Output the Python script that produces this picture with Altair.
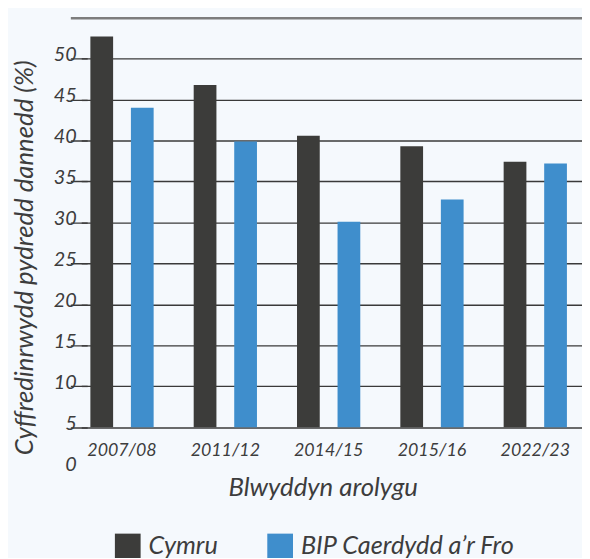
import altair as alt
import pandas as pd

years = ["2007/08", "2011/12", "2014/15", "2015/16", "2022/23"]
series = ["Cymru", "BIP Caerdydd a\u2019r Fro"]
cymru = [47.7, 41.8, 35.6, 34.3, 32.4]
bip = [39.0, 34.9, 25.1, 27.8, 32.2]
colors = ["#3c3c3a", "#3f8ecc"]
y_ticks = [-5, 0, 5, 10, 15, 20, 25, 30, 35, 40, 45, 50]

rows = []
for i, yr in enumerate(years):
    rows.append({"year": yr, "series": series[0], "value": cymru[i]})
    rows.append({"year": yr, "series": series[1], "value": bip[i]})
df = pd.DataFrame(rows)

FONT = "Lato"
TXT = "#3d3d3d"

chart = alt.Chart(df).mark_bar().encode(
    x=alt.X(
        "year:N",
        sort=years,
        scale=alt.Scale(range=[-17, 505], paddingInner=0.3876, paddingOuter=0.1938),
        axis=alt.Axis(
            title="Blwyddyn arolygu",
            labelAngle=0,
            domain=False,
            ticks=False,
            offset=-18,
            labelPadding=0,
            labelBaseline="middle",
            labelFont=FONT,
            labelFontStyle="italic",
            labelFontSize=18,
            labelColor=TXT,
            titleFont=FONT,
            titleFontStyle="italic",
            titleFontWeight="normal",
            titleFontSize=26,
            titleColor=TXT,
            titleX=238,
            titleY=38,
            titleAlign="center",
            titleBaseline="middle",
        ),
    ),
    xOffset=alt.XOffset("series:N", sort=series,
                        scale=alt.Scale(paddingInner=0.439, paddingOuter=0)),
    y=alt.Y(
        "value:Q",
        stack=None,
        scale=alt.Scale(domain=[-5, 50], nice=False, zero=False),
        axis=alt.Axis(
            title="Cyffredinrwydd pydredd dannedd (%)",
            values=y_ticks,
            labelExpr="datum.value >= 50 ? '' : format(datum.value + 5, 'd')",
            domain=False,
            grid=True,
            gridColor={"condition": {"test": "datum.value >= 50", "value": "#7d7d7d"}, "value": "#3a3a3a"},
            gridWidth={"condition": {"test": "datum.value >= 50", "value": 2.5}, "value": 1.4},
            gridOpacity={"condition": {"test": "datum.value < 0", "value": 0}, "value": 1},
            tickColor={"condition": {"test": "datum.value >= 50", "value": "#7d7d7d"}, "value": "#3a3a3a"},
            tickOpacity={"condition": {"test": "datum.value < 0", "value": 0}, "value": 1},
            tickSize=6,
            tickWidth=1.4,
            labelPadding=5,
            labelOffset=-4,
            labelFont=FONT,
            labelFontStyle="italic",
            labelFontSize=20,
            labelColor=TXT,
            titleFont=FONT,
            titleFontStyle="italic",
            titleFontWeight="normal",
            titleFontSize=26,
            titleColor=TXT,
            titleX=-63,
            titleY=242,
            titleAlign="center",
            titleBaseline="middle",
            titleAngle=270,
        ),
    ),
    color=alt.Color(
        "series:N",
        sort=series,
        scale=alt.Scale(domain=series, range=colors),
        legend=alt.Legend(
            title=None,
            orient="none",
            direction="horizontal",
            legendX=28,
            legendY=521,
            symbolType="square",
            symbolSize=676,
            symbolStrokeWidth=0,
            symbolOpacity=1,
            labelFont=FONT,
            labelFontStyle="italic",
            labelFontSize=25.5,
            labelColor=TXT,
            labelOffset=8,
            labelLimit=400,
            columnPadding=49,
        ),
    ),
).properties(
    width=500,
    height=455,
    background="#f5f9fd",
    padding={"left": 80, "top": 7, "right": 0, "bottom": 88},
    autosize=alt.AutoSizeParams(type="none"),
).configure_view(stroke=None)

chart.save("out.html", embed_options={"renderer": "svg", "actions": False})
